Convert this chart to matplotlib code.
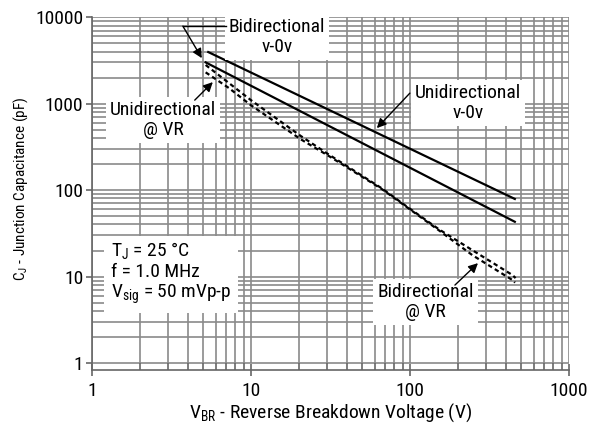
import numpy as np
import matplotlib
matplotlib.use('Agg')
import matplotlib.pyplot as plt

# ---------------------------------------------------------
# Data
# ---------------------------------------------------------
# Solid lines: capacitance at 0 V bias
bi_v0_x = [5.4, 457]
bi_v0_y = [3950, 79]
uni_v0_x = [5.2, 457]
uni_v0_y = [3000, 43]

# Dashed lines: capacitance at rated stand-off voltage
uni_vr_x = [5.2, 7.3, 10, 20.7, 30.7, 66.5, 93, 153, 247, 442, 462]
uni_vr_y = [2800, 1725, 1100, 420, 260, 105, 67, 35, 20.2, 10.4, 9.6]
bi_vr_x = [5.2, 7.3, 10, 20.7, 30.7, 66.5, 93, 153, 247, 442, 458]
bi_vr_y = [2300, 1510, 960, 385, 250, 103, 66, 34, 17.7, 9.1, 8.5]

x_ticks = [1, 10, 100, 1000]
y_ticks = [1, 10, 100, 1000, 10000]

# ---------------------------------------------------------
# Style
# ---------------------------------------------------------
plt.rcParams['font.family'] = ['Roboto Condensed', 'DejaVu Sans']
plt.rcParams['mathtext.fontset'] = 'custom'
plt.rcParams['mathtext.rm'] = 'Roboto Condensed'
plt.rcParams['mathtext.default'] = 'regular'

FS = 14
GRID = '#8a8a8a'

fig = plt.figure(figsize=(5.92, 4.29), dpi=100)
ax = fig.add_axes([0.155, 0.1375, 0.806, 0.8225])
ax.set_xscale('log')
ax.set_yscale('log')
ax.set_xlim(1, 1000)
ax.set_ylim(0.83, 10000)

# grid drawn only inside the 1..10000 range
grid_x = [m * 10 ** k for k in range(3) for m in range(1, 10)] + [1000]
grid_y = [m * 10 ** k for k in range(4) for m in range(1, 10)] + [10000]
ax.vlines(grid_x, 1, 10000, color=GRID, lw=1.2, zorder=1)
ax.hlines(grid_y, 1, 1000, color=GRID, lw=1.2, zorder=1)

# curves
ax.plot(bi_v0_x, bi_v0_y, color='black', lw=1.6, zorder=3)
ax.plot(uni_v0_x, uni_v0_y, color='black', lw=1.6, zorder=3)
ax.plot(uni_vr_x, uni_vr_y, color='black', lw=1.6, ls=(0, (2, 1.5)), zorder=3)
ax.plot(bi_vr_x, bi_vr_y, color='black', lw=1.6, ls=(0, (2, 1.5)), zorder=3)

# axes / ticks
for s in ['top', 'right']:
    ax.spines[s].set_visible(False)
for s in ['left', 'bottom']:
    ax.spines[s].set_color('#666666')
    ax.spines[s].set_linewidth(1.2)

ax.set_xticks(x_ticks)
ax.set_xticklabels([str(v) for v in x_ticks])
ax.set_yticks(y_ticks)
ax.set_yticklabels([str(v) for v in y_ticks])
ax.xaxis.set_minor_locator(matplotlib.ticker.LogLocator(base=10, subs=np.arange(2, 10)))
ax.xaxis.set_minor_formatter(matplotlib.ticker.NullFormatter())
ax.yaxis.set_minor_locator(matplotlib.ticker.NullLocator())
ax.tick_params(axis='x', which='major', direction='inout', length=9, width=1.2,
               color='#666666', labelsize=FS, pad=4)
ax.tick_params(axis='x', which='minor', direction='in', length=5, width=1.2,
               color='#666666')
ax.tick_params(axis='y', which='major', direction='out', length=4, width=1.2,
               color='#666666', labelsize=FS, pad=2)

ax.set_xlabel(r'V$_{BR}$ - Reverse Breakdown Voltage (V)', fontsize=FS, labelpad=1)
ax.set_ylabel(r'C$_{J}$ - Junction Capacitance (pF)', fontsize=11)
ax.yaxis.set_label_coords(-0.13, 0.515)

# ---------------------------------------------------------
# Annotations
# ---------------------------------------------------------
box = dict(facecolor='white', edgecolor='none', pad=3)
arrow = dict(arrowstyle='-|>', color='black', lw=1.0, mutation_scale=14,
             shrinkA=0, shrinkB=0)

ax.text(14.6, 5870, 'Bidirectional\nv-0v', ha='center', va='center',
        fontsize=FS, bbox=box, zorder=4, linespacing=1.1)
ax.plot([6.96, 3.74], [7870, 7870], color='black', lw=1.0, zorder=4)
ax.annotate('', xy=(4.92, 3357), xytext=(3.74, 7870), arrowprops=arrow, zorder=4)

ax.text(2.80, 645, 'Unidirectional\n@ VR', ha='center', va='center',
        fontsize=FS, bbox=box, zorder=4, linespacing=1.1)
ax.annotate('', xy=(5.77, 1773), xytext=(4.44, 1097), arrowprops=arrow, zorder=4)

ax.text(231.6, 1013, 'Unidirectional\nv-0v', ha='center', va='center',
        fontsize=FS, bbox=box, zorder=4, linespacing=1.1)
ax.annotate('', xy=(62, 521), xytext=(100, 1322), arrowprops=arrow, zorder=4)

ax.text(126, 5.07, 'Bidirectional\n@ VR', ha='center', va='center',
        fontsize=FS, bbox=box, zorder=4, linespacing=1.1)
ax.annotate('', xy=(268, 14.3), xytext=(192, 7.97), arrowprops=arrow, zorder=4)

ax.text(1.316, 11.0, 'T$_J$ = 25 °C\nf = 1.0 MHz\nV$_{sig}$ = 50 mVp-p',
        ha='left', va='center', fontsize=FS, zorder=4, linespacing=1.1,
        bbox=dict(facecolor='white', edgecolor='none', pad=5))

plt.savefig('out.png', dpi=100)
